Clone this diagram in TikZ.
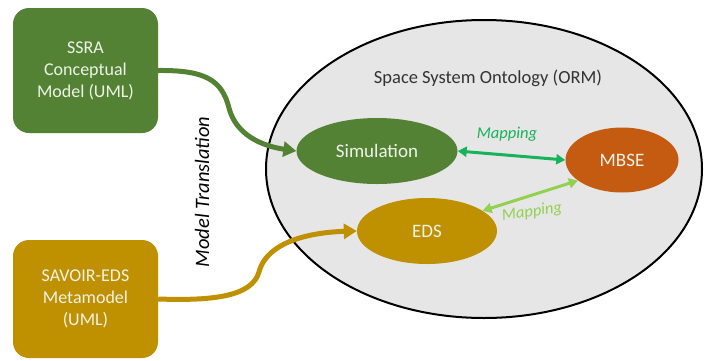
\documentclass[tikz,border=0pt]{standalone}
\usepackage{fontspec}
\setmainfont{Carlito}
\usetikzlibrary{arrows.meta,shapes.geometric}
\definecolor{ssgreen}{HTML}{548235}
\definecolor{ssgold}{HTML}{BF9000}
\definecolor{ssorange}{HTML}{C55A11}
\definecolor{ssgray}{HTML}{E7E6E6}
\definecolor{mapgreen}{HTML}{16B35A}
\definecolor{maplight}{HTML}{92D050}
\definecolor{boxtext}{HTML}{EEF3E8}
\tikzset{
  srcbox/.style={rounded corners=16pt, minimum width=145pt, align=center,
    text=boxtext, font=\fontsize{18}{22}\selectfont},
  concept/.style={ellipse, inner sep=0pt, text=boxtext, font=\fontsize{19}{22}\selectfont},
  translink/.style={line width=5pt, -{Triangle[length=13pt,width=15pt]}},
  maplink/.style={line width=3pt, {Triangle[length=9pt,width=10pt]}-{Triangle[length=9pt,width=10pt]}},
  maplabel/.style={font=\fontsize{16.5}{19}\selectfont\itshape}
}
\begin{document}
\begin{tikzpicture}[x=1pt,y=-1pt]
\useasboundingbox (0,0) rectangle (705,360);
% ontology container
\node[ellipse, draw=black, line width=2pt, fill=ssgray, minimum width=436pt, minimum height=298pt] (orm) at (484,169) {};
\node[font=\fontsize{18.5}{21}\selectfont, text=black!80] (title) at (488,78) {Space System Ontology (ORM)};
% source models
\node[srcbox, fill=ssgreen, minimum height=125pt] (ssra) at (85.5,70.5) {SSRA\\Conceptual\\Model (UML)};
\node[srcbox, fill=ssgold, minimum height=118pt] (savoir) at (85.5,299) {SAVOIR-EDS\\Metamodel\\(UML)};
% ontology concepts
\node[concept, fill=ssgreen, minimum width=161pt, minimum height=66pt] (sim) at (377,151) {Simulation};
\node[concept, fill=ssorange, minimum width=113pt, minimum height=65pt] (mbse) at (622,160) {MBSE};
\node[concept, fill=ssgold, minimum width=140pt, minimum height=66pt] (eds) at (427,231) {EDS};
% translation arrows
\draw[translink, ssgreen] (ssra.east) .. controls (205,70) and (222,80) .. (229,108)
  .. controls (236,135) and (262,146) .. (sim.west);
\draw[translink, ssgold] (savoir.east) .. controls (215,301) and (252,296) .. (259,272)
  .. controls (268,238) and (320,232) .. (eds.west);
\node[rotate=90, font=\fontsize{20.5}{23}\selectfont\itshape] (mt) at (202,192) {Model Translation};
% mappings
\draw[maplink, mapgreen] (sim.east) -- (mbse.west);
\node[maplabel, text=mapgreen] (m1) at (507,134) {Mapping};
\draw[maplink, maplight] (eds.20) -- (mbse.205);
\node[maplabel, text=maplight, rotate=8] (m2) at (532,212) {Mapping};
\end{tikzpicture}
\end{document}
